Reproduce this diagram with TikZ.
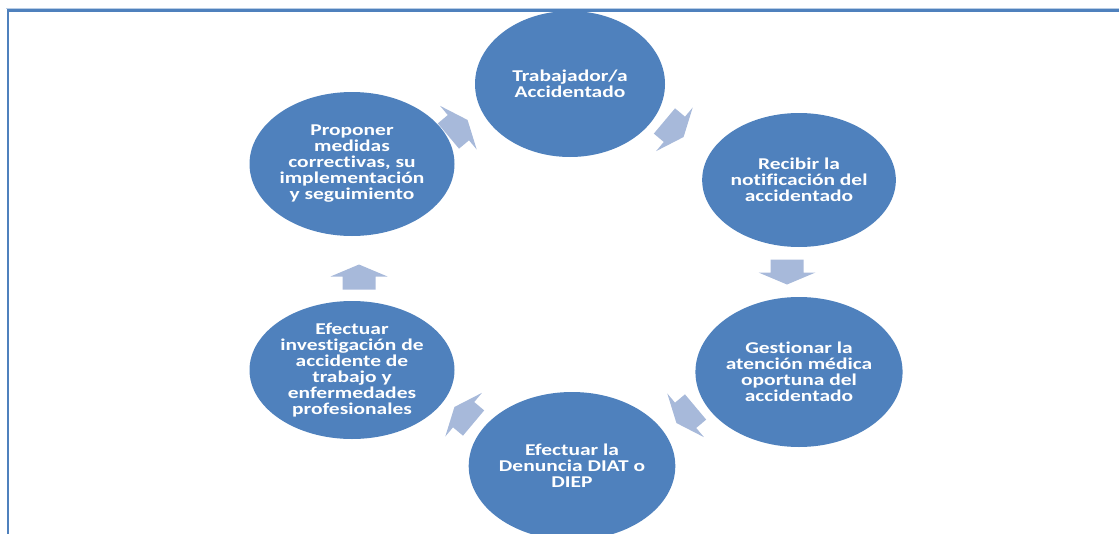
\documentclass[tikz,border=0pt]{standalone}
\usepackage{fontspec}
\newfontfamily\lblfont{Carlito}[FakeStretch=1.3, Ligatures=NoCommon]
\usetikzlibrary{shapes.geometric}
\definecolor{nodeblue}{HTML}{4F81BD}
\definecolor{arrowblue}{HTML}{A7B9DA}
\definecolor{framelight}{HTML}{B9CDE5}
\tikzset{
  stage/.style={ellipse, fill=nodeblue, text=white, inner sep=0pt, align=center,
    font=\lblfont\bfseries\fontsize{16.5}{16}\selectfont},
  blockarrow/.pic={\fill[arrowblue] (-12.5,-16.5) -- (0.5,-16.5) -- (0.5,-28.5) -- (12.5,0) -- (0.5,28.5) -- (0.5,16.5) -- (-12.5,16.5) -- cycle;}
}
\begin{document}
\begin{tikzpicture}[x=1pt,y=-1pt]
\useasboundingbox (0,0) rectangle (1119,533);
\begin{scope}
\clip (0,0) rectangle (1119,533);
\draw[framelight, line width=1pt] (6,8.6) -- (1125,8.6);
\draw[nodeblue, line width=2.2pt] (7.7,545) -- (7.7,10.5) -- (1130,10.5);

\node[stage, minimum width=190pt, minimum height=146pt] (trab) at (570,84) {Trabajador/a\\Accidentado};
\node[stage, minimum width=188pt, minimum height=134pt] (recib) at (799,180) {Recibir la\\notificación del\\accidentado};
\node[stage, minimum width=188pt, minimum height=150pt] (gest) at (799,372) {Gestionar la\\atención médica\\oportuna del\\accidentado};
\node[stage, minimum width=198pt, minimum height=148pt] (denun) at (572,466) {Efectuar la\\Denuncia DIAT o\\DIEP};
\node[stage, minimum width=205pt, minimum height=138pt] (inves) at (352,370) {Efectuar\\investigación de\\accidente de\\trabajo y\\enfermedades\\profesionales};
\node[stage, minimum width=198pt, minimum height=144pt] (prop) at (352,164) {Proponer\\medidas\\correctivas, su\\implementación\\y seguimiento};

\pic[rotate=40] (a1) at (458,128) {blockarrow};
\pic[rotate=-40] (a2) at (674,129) {blockarrow};
\pic[rotate=-90] (a3) at (787,272) {blockarrow};
\pic[rotate=-140] (a4) at (686,415) {blockarrow};
\pic[rotate=140] (a5) at (464,415) {blockarrow};
\pic[rotate=90] (a6) at (359,277) {blockarrow};
\end{scope}
\end{tikzpicture}
\end{document}
